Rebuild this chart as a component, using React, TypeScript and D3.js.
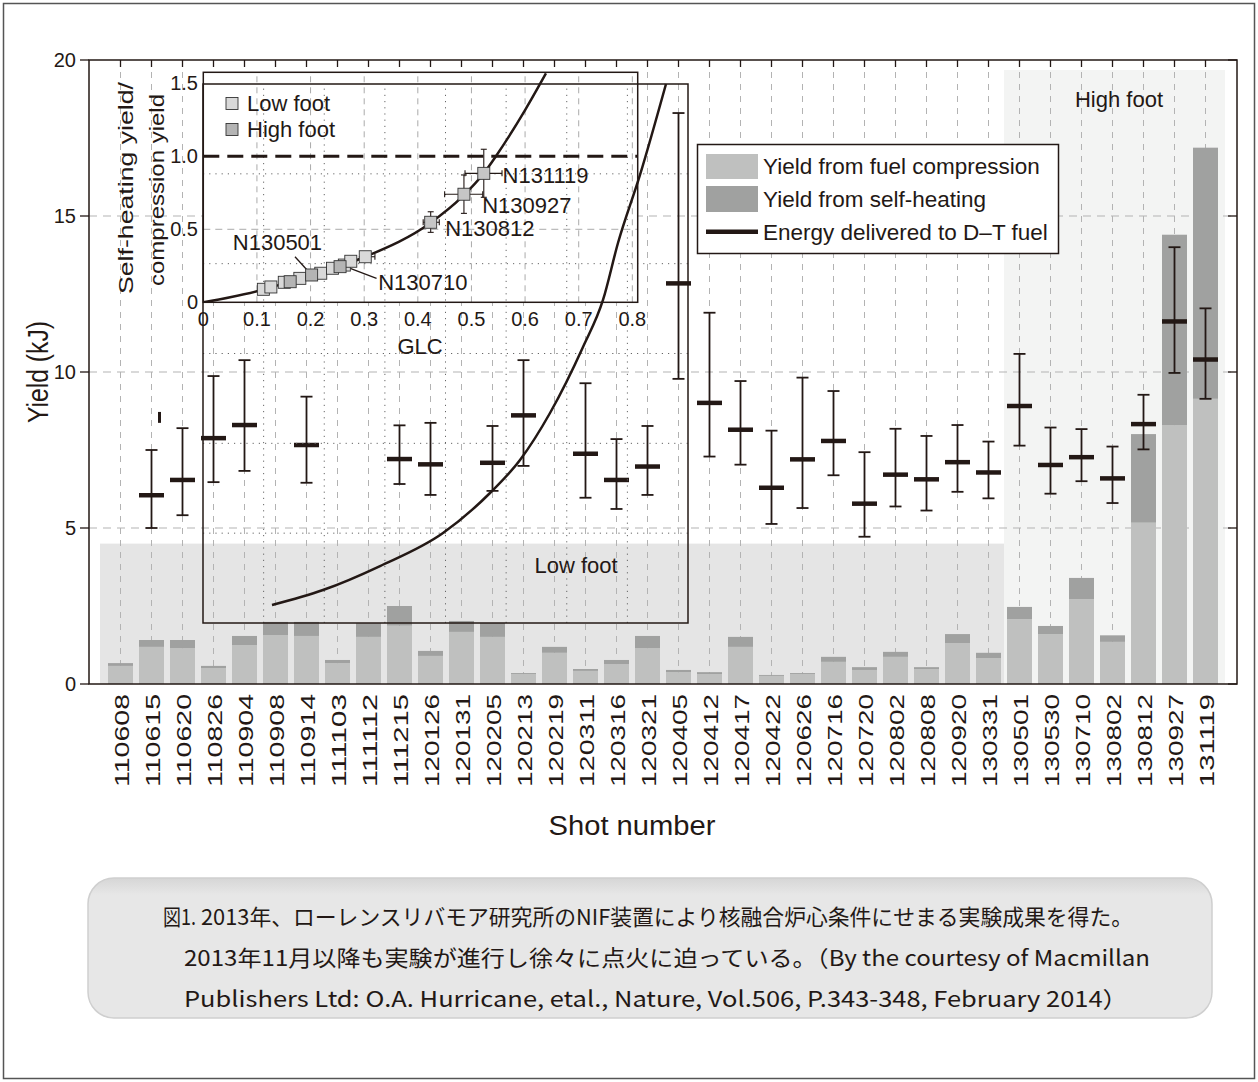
import React from "react";
import * as d3 from "d3";

// ---------- main chart data ----------
const shots = [
  "110608", "110615", "110620", "110826", "110904", "110908", "110914", "111103", "111112", "111215",
  "120126", "120131", "120205", "120213", "120219", "120311", "120316", "120321", "120405", "120412",
  "120417", "120422", "120626", "120716", "120720", "120802", "120808", "120920", "130331", "130501",
  "130530", "130710", "130802", "130812", "130927", "131119",
];
const compressionYield = [
  0.58, 1.19, 1.15, 0.51, 1.25, 1.57, 1.54, 0.67, 1.51, 1.87,
  0.90, 1.67, 1.51, 0.32, 1.00, 0.42, 0.64, 1.15, 0.38, 0.32,
  1.19, 0.26, 0.32, 0.71, 0.45, 0.87, 0.48, 1.31, 0.83, 2.08,
  1.60, 2.72, 1.35, 5.17, 8.30, 9.14,
];
const selfHeatingYield = [
  0.09, 0.22, 0.26, 0.07, 0.29, 0.42, 0.45, 0.10, 0.44, 0.63,
  0.16, 0.35, 0.45, 0.03, 0.19, 0.06, 0.13, 0.39, 0.07, 0.06,
  0.32, 0.03, 0.03, 0.16, 0.09, 0.16, 0.06, 0.29, 0.17, 0.39,
  0.26, 0.68, 0.21, 2.84, 6.10, 8.05,
];
const energyDelivered = [
  null, 6.05, 6.54, 7.88, 8.30, null, 7.66, null, null, 7.21,
  7.04, null, 7.09, 8.61, null, 7.38, 6.54, 6.97, 12.84, 9.01,
  8.15, 6.29, 7.20, 7.79, 5.78, 6.71, 6.56, 7.11, 6.78, 8.91,
  7.02, 7.27, 6.59, 8.33, 11.62, 10.40,
];
const energyHigh = [
  null, 7.5, 8.2, 9.87, 10.38, null, 9.21, null, null, 8.29,
  8.37, null, 8.27, 10.38, null, 9.64, 7.85, 8.27, 18.3, 11.9,
  9.71, 8.12, 9.82, 9.39, 7.43, 8.18, 7.95, 8.30, 7.77, 10.58,
  8.22, 8.17, 7.61, 9.27, 14.0, 12.04,
];
const energyLow = [
  null, 5.0, 5.41, 6.47, 6.83, null, 6.45, null, null, 6.41,
  6.06, null, 6.19, 6.99, null, 5.97, 5.61, 6.06, 9.78, 7.29,
  7.03, 5.13, 5.64, 6.69, 4.72, 5.69, 5.56, 6.16, 5.95, 7.64,
  6.10, 6.50, 5.80, 7.52, 9.97, 9.14,
];
const yTicks = [0, 5, 10, 15, 20];
const yGrid = [5, 10, 15];
const lowFootTop = 4.5;
const highFootTop = 19.68;
const firstHighFootShot = "130501";
const strayMarkShot = "110615";
const strayMarkRange = [8.37, 8.72];

// ---------- inset data ----------
const insetXTicks = [0, 0.1, 0.2, 0.3, 0.4, 0.5, 0.6, 0.7, 0.8];
const insetXTickLabels = ["0", "0.1", "0.2", "0.3", "0.4", "0.5", "0.6", "0.7", "0.8"];
const insetYTicks = [0, 0.5, 1.0, 1.5];
const insetYTickLabels = ["0", "0.5", "1.0", "1.5"];
const lowFootGLC = [0.112, 0.126, 0.151, 0.180, 0.219, 0.241, 0.263, 0.275, 0.302];
const lowFootRatio = [0.089, 0.105, 0.137, 0.164, 0.199, 0.233, 0.255, 0.281, 0.312];
const lowFootGLCErr = [null, null, null, null, null, null, null, null, [0.29, 0.32]];
const highFootGLC = [0.162, 0.202, 0.255, 0.424, 0.486, 0.523];
const highFootRatio = [0.141, 0.187, 0.244, 0.548, 0.740, 0.883];
const highFootGLCErr = [null, null, null, [0.41, 0.44], [0.450, 0.521], [0.488, 0.557]];
const highFootRatioErr = [null, null, null, [0.479, 0.62], [0.609, 0.872], [0.719, 1.048]];
const fitCurveGLC = [0, 0.05, 0.109, 0.15, 0.2026, 0.302, 0.424, 0.483, 0.523, 0.545, 0.600, 0.639];
const fitCurveRatio = [0, 0.034, 0.084, 0.128, 0.187, 0.312, 0.545, 0.723, 0.883, 0.997, 1.316, 1.568];
const pointLabels = ["N131119", "N130927", "N130812", "N130501", "N130710"];
const pointLabelGLC = [0.558, 0.520, 0.451, 0.055, 0.326];
const pointLabelRatio = [0.872, 0.666, 0.509, 0.413, 0.141];
const leaderFrom = [[0.171, 0.312], [0.258, 0.255]];
const leaderTo = [[0.199, 0.199], [0.323, 0.164]];
// enlarged copy of the inset's axes (drawn over the main chart)
const bigGridX = [0.1, 0.2, 0.3, 0.4, 0.5, 0.6, 0.7];
const bigGridY = [0.25, 0.5, 0.75, 1.0, 1.25];
const bigCurveGLC = [0.1138, 0.1979, 0.292, 0.3959, 0.4734, 0.5229, 0.5724, 0.6268, 0.6598, 0.6845, 0.7208, 0.7637];
const bigCurveRatio = [0.0501, 0.0918, 0.1586, 0.2505, 0.3618, 0.4536, 0.5844, 0.7681, 0.8989, 1.0575, 1.2468, 1.5];

const legendLabels = ["Yield from fuel compression", "Yield from self-heating", "Energy delivered to D\u2013T fuel"];
const captionLead = "図1.";
const captionLines = [
  "2013年、ローレンスリバモア研究所のNIF装置により核融合炉心条件にせまる実験成果を得た。",
  "2013年11月以降も実験が進行し徐々に点火に迫っている。（By the courtesy of Macmillan",
  "Publishers Ltd: O.A. Hurricane, etal., Nature, Vol.506, P.343-348, February 2014）",
];

const INK = "#231815";
const COMP = "#bfc0bf";
const SELF = "#a0a1a0";
const FONT = "'Liberation Sans', Arial, Helvetica, sans-serif";

export default function App() {
  const W = 1258, H = 1082;
  const plotL = 89, plotR = 1237, plotT = 60, plotB = 684;
  const x = d3.scalePoint<string>().domain(shots).range([120.5, 1205.5]);
  const y = d3.scaleLinear().domain([0, 20]).range([plotB, plotT]);
  const barW = 25;

  const insX = d3.scaleLinear().domain([0, 0.81]).range([203.3, 637.7]);
  const insY = d3.scaleLinear().domain([0, 1.575]).range([302.3, 72.3]);
  const bigX = d3.scaleLinear().domain([0, 0.8]).range([203, 688]);
  const bigY = d3.scaleLinear().domain([0, 1.5]).range([623, 84]);

  const fitLine = d3.line<number>()
    .x((_, i) => insX(fitCurveGLC[i]))
    .y((_, i) => insY(fitCurveRatio[i]))
    .curve(d3.curveMonotoneX)(fitCurveGLC);
  const bigLine = d3.line<number>()
    .x((_, i) => bigX(bigCurveGLC[i]))
    .y((_, i) => bigY(bigCurveRatio[i]))
    .curve(d3.curveMonotoneX)(bigCurveGLC);

  const firstX = x(shots[0])!;
  const lastX = x(shots[shots.length - 1])!;
  const hfIdx = shots.indexOf(firstHighFootShot);
  const splitX = (x(shots[hfIdx - 1])! + x(shots[hfIdx])!) / 2;

  const square = (cx: number, cy: number, fill: string, key: string) => (
    <rect key={key} x={cx - 6} y={cy - 6} width={12} height={12} fill={fill} stroke="#333" strokeWidth={0.9} />
  );

  return (
    <svg width={W} height={H} style={{ position: "absolute", left: 0, top: 0, background: "#fff" }} fontFamily={FONT}>
      <defs>
        <clipPath id="insClip">
          <rect x={203.3} y={72.3} width={434.4} height={230} />
        </clipPath>
        <linearGradient id="capGrad" x1="0" y1="0" x2="0" y2="1">
          <stop offset="0" stopColor="#d6d6d6" />
          <stop offset="0.12" stopColor="#e7e7e7" />
          <stop offset="1" stopColor="#e7e7e7" />
        </linearGradient>
      </defs>
      <rect x={3.5} y={3.5} width={1251} height={1075} fill="#fff" stroke="#555" strokeWidth={1.5} />

      {/* shaded regions */}
      <rect x={firstX - 20.5} y={y(lowFootTop)} width={splitX - (firstX - 20.5)} height={y(0) - y(lowFootTop)} fill="#e5e5e5" />
      <rect x={splitX} y={y(highFootTop)} width={lastX + 19.5 - splitX} height={y(0) - y(highFootTop)} fill="#f3f4f3" />

      {/* grid */}
      {shots.map((s) => (
        <line key={"vg" + s} x1={x(s)} x2={x(s)} y1={plotT} y2={plotB} stroke="#b3b3b3" strokeWidth={1} strokeDasharray="6,6" />
      ))}
      {yGrid.map((v) => (
        <line key={"hg" + v} x1={plotL} x2={plotR} y1={y(v)} y2={y(v)} stroke="#b3b3b3" strokeWidth={1} strokeDasharray="8,6" />
      ))}

      <text x={576} y={573} fontSize={22} textAnchor="middle" fill={INK}>Low foot</text>
      <text x={1119} y={107} fontSize={22} textAnchor="middle" fill={INK}>High foot</text>

      {/* stacked bars */}
      {shots.map((s, i) => {
        const c = compressionYield[i];
        const t = c + selfHeatingYield[i];
        return (
          <g key={"b" + s}>
            <rect x={x(s)! - barW / 2} y={y(c)} width={barW} height={y(0) - y(c)} fill={COMP} />
            <rect x={x(s)! - barW / 2} y={y(t)} width={barW} height={y(c) - y(t)} fill={SELF} />
          </g>
        );
      })}

      {/* energy delivered with error bars */}
      {shots.map((s, i) => {
        const v = energyDelivered[i];
        if (v == null) return null;
        const cx = x(s)!;
        const hi = energyHigh[i]!, lo = energyLow[i]!;
        return (
          <g key={"e" + s} stroke={INK}>
            <line x1={cx} x2={cx} y1={y(hi)} y2={y(lo)} strokeWidth={1.8} />
            <line x1={cx - 6} x2={cx + 6} y1={y(hi)} y2={y(hi)} strokeWidth={1.8} />
            <line x1={cx - 6} x2={cx + 6} y1={y(lo)} y2={y(lo)} strokeWidth={1.8} />
            <line x1={cx - 12.5} x2={cx + 12.5} y1={y(v)} y2={y(v)} strokeWidth={4.5} />
          </g>
        );
      })}
      <rect x={x(strayMarkShot)! + 6.5} y={y(strayMarkRange[1])} width={3} height={y(strayMarkRange[0]) - y(strayMarkRange[1])} fill={INK} />

      {/* ---------- inset ---------- */}
      <rect x={203.3} y={72.3} width={434.4} height={230} fill="#fff" />
      {insetXTicks.slice(1).map((v) => (
        <line key={"ivg" + v} x1={insX(v)} x2={insX(v)} y1={insY(0)} y2={72.3} stroke="#aaa" strokeWidth={1} strokeDasharray="6,5" />
      ))}
      <line x1={203.3} x2={637.7} y1={insY(0.5)} y2={insY(0.5)} stroke="#aaa" strokeWidth={1} strokeDasharray="7,5" />

      {/* enlarged axes copy */}
      {bigGridX.map((v) => (
        <line key={"bgx" + v} x1={bigX(v)} x2={bigX(v)} y1={bigY(0)} y2={bigY(1.5)} stroke="#666" strokeWidth={1} strokeDasharray="1.2,5" />
      ))}
      {bigGridY.map((v) => (
        <line key={"bgy" + v} x1={bigX(0)} x2={bigX(0.8)} y1={bigY(v)} y2={bigY(v)} stroke="#666" strokeWidth={1} strokeDasharray="1.2,5" />
      ))}
      <rect x={bigX(0)} y={bigY(1.5)} width={bigX(0.8) - bigX(0)} height={bigY(0) - bigY(1.5)} fill="none" stroke={INK} strokeWidth={1.5} />
      <path d={bigLine!} fill="none" stroke={INK} strokeWidth={2.5} />

      <line x1={203.3} x2={637.7} y1={insY(1)} y2={insY(1)} stroke={INK} strokeWidth={3} strokeDasharray="16,8" />
      <rect x={203.3} y={72.3} width={434.4} height={230} fill="none" stroke={INK} strokeWidth={1.5} />
      <path d={fitLine!} fill="none" stroke={INK} strokeWidth={2.5} clipPath="url(#insClip)" />

      {/* leader lines */}
      {leaderFrom.map((f, i) => (
        <line key={"ld" + i} x1={insX(f[0])} y1={insY(f[1])} x2={insX(leaderTo[i][0])} y2={insY(leaderTo[i][1])} stroke={INK} strokeWidth={1.3} />
      ))}

      {/* error bars on inset points */}
      {highFootGLC.map((g, i) => {
        const xe = highFootGLCErr[i], ye = highFootRatioErr[i];
        const cx = insX(g), cy = insY(highFootRatio[i]);
        return (
          <g key={"he" + i} stroke={INK} strokeWidth={1.1}>
            {xe && <line x1={insX(xe[0])} x2={insX(xe[1])} y1={cy} y2={cy} />}
            {xe && <line x1={insX(xe[0])} x2={insX(xe[0])} y1={cy - 3} y2={cy + 3} />}
            {xe && <line x1={insX(xe[1])} x2={insX(xe[1])} y1={cy - 3} y2={cy + 3} />}
            {ye && <line x1={cx} x2={cx} y1={insY(ye[0])} y2={insY(ye[1])} />}
            {ye && <line x1={cx - 3} x2={cx + 3} y1={insY(ye[0])} y2={insY(ye[0])} />}
            {ye && <line x1={cx - 3} x2={cx + 3} y1={insY(ye[1])} y2={insY(ye[1])} />}
          </g>
        );
      })}
      {lowFootGLC.map((g, i) => {
        const xe = lowFootGLCErr[i];
        const cy = insY(lowFootRatio[i]);
        return xe ? (
          <g key={"le" + i} stroke={INK} strokeWidth={1.1}>
            <line x1={insX(xe[0])} x2={insX(xe[1])} y1={cy} y2={cy} />
            <line x1={insX(xe[1])} x2={insX(xe[1])} y1={cy - 3} y2={cy + 3} />
          </g>
        ) : null;
      })}
      {lowFootGLC.map((g, i) => square(insX(g), insY(lowFootRatio[i]), "#d9d9d9", "lf" + i))}
      {highFootGLC.map((g, i) => square(insX(g), insY(highFootRatio[i]), i < 3 ? "#b4b4b4" : "#c6c6c6", "hf" + i))}

      {pointLabels.map((l, i) => (
        <text key={l} x={insX(pointLabelGLC[i])} y={insY(pointLabelRatio[i]) + 8} fontSize={22} fill={INK}>{l}</text>
      ))}

      {/* inset legend */}
      <rect x={226} y={97.5} width={12} height={12} fill="#d9d9d9" stroke="#333" strokeWidth={0.9} />
      <text x={247} y={111} fontSize={22} fill={INK}>Low foot</text>
      <rect x={226} y={123.5} width={12} height={12} fill="#b4b4b4" stroke="#333" strokeWidth={0.9} />
      <text x={247} y={137} fontSize={22} fill={INK}>High foot</text>

      {/* inset axes labels */}
      {insetYTicks.map((v, i) => (
        <text key={"iyt" + v} x={198} y={insY(v) + 7} fontSize={20} textAnchor="end" fill={INK}>{insetYTickLabels[i]}</text>
      ))}
      {insetXTicks.map((v, i) => (
        <text key={"ixt" + v} x={insX(v)} y={326} fontSize={20} textAnchor="middle" fill={INK}>{insetXTickLabels[i]}</text>
      ))}
      <text x={420} y={354} fontSize={22} textAnchor="middle" fill={INK}>GLC</text>
      <text transform="translate(133,188) rotate(-90)" fontSize={21} textAnchor="middle" fill={INK} textLength={212} lengthAdjust="spacingAndGlyphs">Self-heating yield/</text>
      <text transform="translate(164,190) rotate(-90)" fontSize={21} textAnchor="middle" fill={INK} textLength={192} lengthAdjust="spacingAndGlyphs">compression yield</text>

      {/* ---------- main frame & axes ---------- */}
      <rect x={plotL} y={plotT} width={plotR - plotL} height={plotB - plotT} fill="none" stroke={INK} strokeWidth={1.5} />
      {shots.map((s) => (
        <line key={"tt" + s} x1={x(s)} x2={x(s)} y1={plotT} y2={plotT + 7} stroke={INK} strokeWidth={1.3} />
      ))}
      {yTicks.map((v) => (
        <g key={"yt" + v}>
          <line x1={plotL - 9} x2={plotL} y1={y(v)} y2={y(v)} stroke={INK} strokeWidth={1.3} />
          <line x1={plotR - 9} x2={plotR} y1={y(v)} y2={y(v)} stroke={INK} strokeWidth={1.3} />
          <text x={76} y={y(v) + 7} fontSize={20} textAnchor="end" fill={INK}>{v}</text>
        </g>
      ))}
      {shots.map((s) => (
        <text key={"xl" + s} transform={`translate(${x(s)! + 1},694) rotate(-90)`} fontSize={20} textAnchor="end" dominantBaseline="central" fill={INK} textLength={93} lengthAdjust="spacingAndGlyphs">{s}</text>
      ))}
      <text x={632} y={835} fontSize={27} textAnchor="middle" fill={INK} textLength={167} lengthAdjust="spacingAndGlyphs">Shot number</text>
      <text transform="translate(48,372) rotate(-90)" fontSize={30} textAnchor="middle" fill={INK} textLength={102} lengthAdjust="spacingAndGlyphs">Yield (kJ)</text>

      {/* legend */}
      <rect x={697.5} y={144.5} width={361} height={109} fill="#fff" stroke={INK} strokeWidth={1.5} />
      <rect x={706} y={154} width={52} height={25} fill={COMP} />
      <rect x={706} y={186} width={52} height={26} fill={SELF} />
      <line x1={706} x2={758} y1={231.7} y2={231.7} stroke={INK} strokeWidth={4.5} />
      {legendLabels.map((l, i) => (
        <text key={l} x={763} y={[174, 206.5, 240][i]} fontSize={22.5} fill={INK}>{l}</text>
      ))}

      {/* caption */}
      <rect x={88} y={878} width={1124} height={140} rx={26} ry={26} fill="url(#capGrad)" stroke="#cfcfcf" strokeWidth={1.5} />
      <g fontFamily="'Noto Sans CJK JP', sans-serif" fontSize={22} fill={INK}>
        <text x={163} y={925} textLength={33} lengthAdjust="spacingAndGlyphs">{captionLead}</text>
        <text x={201} y={925} textLength={932} lengthAdjust="spacingAndGlyphs">{captionLines[0]}</text>
        <text x={184} y={966} textLength={966} lengthAdjust="spacingAndGlyphs">{captionLines[1]}</text>
        <text x={184} y={1007} textLength={944} lengthAdjust="spacingAndGlyphs">{captionLines[2]}</text>
      </g>
    </svg>
  );
}
